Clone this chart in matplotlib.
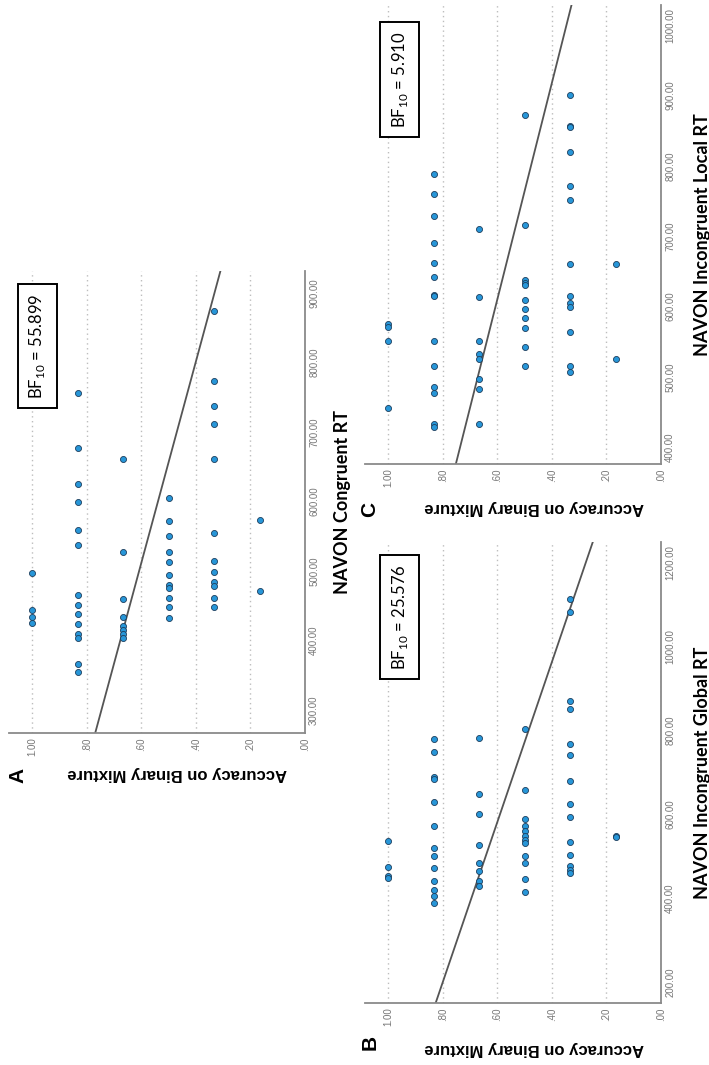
import matplotlib
matplotlib.use('Agg')
import matplotlib.pyplot as plt

# accuracy levels (k/6) and the RT values of the participants at each level
acc_levels = [1.0, 0.8333, 0.6667, 0.5, 0.3333, 0.1667]

congruent_rt = [
    [498, 444, 434, 425],
    [756, 677, 625, 600, 559, 537, 465, 451, 439, 424, 410, 404, 366, 355],
    [662, 528, 460, 434, 421, 415, 410, 404],
    [605, 572, 551, 527, 513, 495, 480, 476, 462, 449, 433],
    [874, 773, 737, 712, 661, 555, 514, 499, 485, 479, 461, 449],
    [574, 472],
]
global_rt = [
    [537, 475, 452, 448],
    [781, 748, 689, 685, 630, 572, 520, 500, 471, 441, 419, 405, 389],
    [783, 648, 602, 527, 485, 465, 442, 428],
    [803, 658, 590, 572, 560, 548, 540, 532, 500, 483, 447, 414],
    [1115, 1083, 871, 852, 767, 742, 679, 625, 594, 534, 504, 477, 467, 460],
    [548, 545],
]
local_rt = [
    [575, 571, 551, 456],
    [789, 760, 729, 691, 662, 642, 617, 615, 551, 516, 485, 477, 433, 429],
    [711, 614, 551, 533, 526, 497, 482, 433],
    [872, 716, 638, 633, 630, 609, 597, 584, 570, 543, 516],
    [901, 857, 855, 820, 772, 752, 660, 615, 605, 599, 564, 516, 507],
    [660, 526],
]

# fit lines: accuracy at both ends of the RT axis
congruent_fit_rt, congruent_fit_acc = [267, 932], [0.769, 0.310]
global_fit_rt, global_fit_acc = [150, 1250], [0.826, 0.250]
local_fit_rt, local_fit_acc = [376, 1029], [0.752, 0.328]

acc_ticks = [0.0, 0.2, 0.4, 0.6, 0.8, 1.0]
acc_ticklabels = ['.00', '.20', '.40', '.60', '.80', '1.00']

W, H = 709, 1065
fig = plt.figure(figsize=(W / 100, H / 100), dpi=100)


def px_rect(left, top, right, bottom):
    return [left / W, 1 - bottom / H, (right - left) / W, (bottom - top) / H]


def draw_panel(rect, rt_lists, rt_lim, rt_ticks, fit_rt, fit_acc,
               rt_label, bf, bf_xy, letter, letter_xy, acc_label_xy, rt_label_x):
    ax = fig.add_axes(rect)
    # whole figure is turned on its side: accuracy runs right-to-left,
    # RT runs bottom-to-top
    ax.set_xlim(1.085, 0)
    ax.set_ylim(*rt_lim)
    for s in ['top', 'left']:
        ax.spines[s].set_visible(False)
    for s in ['right', 'bottom']:
        ax.spines[s].set_color('#8a8a8a')
        ax.spines[s].set_linewidth(1.3)
    ax.yaxis.tick_right()
    ax.set_xticks(acc_ticks)
    ax.set_xticklabels(acc_ticklabels, rotation=90, va='top', ha='center')
    ax.set_yticks(rt_ticks)
    ax.set_yticklabels(['%.2f' % t for t in rt_ticks], rotation=90,
                       va='center', ha='left')
    ax.tick_params(length=0, labelsize=7, labelcolor='#777777', pad=3)
    for lab in ax.get_xticklabels() + ax.get_yticklabels():
        lab.set_family('Liberation Sans')
    ax.xaxis.grid(True, linestyle=(0, (1, 2.5)), color='#bdbdbd', linewidth=1)
    ax.set_axisbelow(True)

    for acc, rts in zip(acc_levels, rt_lists):
        ax.scatter([acc] * len(rts), rts, s=19, color='#2796d8',
                   edgecolor='#1c3d5c', linewidth=0.6, zorder=3)
    ax.plot(fit_acc, fit_rt, color='#555555', linewidth=1.3, zorder=2)

    ax.text(bf_xy[0], bf_xy[1], r'BF$_{\mathregular{10}}$ = ' + bf,
            transform=ax.transAxes, rotation=90, ha='center', va='center',
            fontsize=12, family='Lato', zorder=4,
            bbox=dict(boxstyle='square,pad=0.55', facecolor='white',
                      edgecolor='black', linewidth=1.4))
    ax.text(acc_label_xy[0], acc_label_xy[1], 'Accuracy on Binary Mixture',
            transform=ax.transAxes, rotation=180, ha='center', va='center',
            fontsize=12, fontweight='bold', family='Liberation Sans')
    ax.text(rt_label_x, 0.5, rt_label, transform=ax.transAxes, rotation=90,
            ha='center', va='center', fontsize=13, fontweight='bold',
            family='Lato')
    ax.text(letter_xy[0], letter_xy[1], letter, transform=ax.transAxes,
            rotation=90, ha='center', va='center', fontsize=15,
            fontweight='bold', family='Liberation Sans')
    return ax


draw_panel(px_rect(9, 271, 305, 733), congruent_rt, (267, 932),
           [300, 400, 500, 600, 700, 800, 900],
           congruent_fit_rt, congruent_fit_acc, 'NAVON Congruent RT',
           '55.899', (0.096, 0.838), 'A', (0.03, -0.091), (0.568, -0.087), 1.128)

draw_panel(px_rect(365, 542, 661, 1003), global_rt, (150, 1250),
           [200, 400, 600, 800, 1000, 1200],
           global_fit_rt, global_fit_acc, 'NAVON Incongruent Global RT',
           '25.576', (0.117, 0.837), 'B', (0.017, -0.085), (0.57, -0.098), 1.139)

draw_panel(px_rect(365, 5, 661, 464), local_rt, (376, 1029),
           [400, 500, 600, 700, 800, 900, 1000],
           local_fit_rt, local_fit_acc, 'NAVON Incongruent Local RT',
           '5.910', (0.117, 0.838), 'C', (0.017, -0.10), (0.57, -0.095), 1.139)

fig.savefig('out.png', dpi=100)
